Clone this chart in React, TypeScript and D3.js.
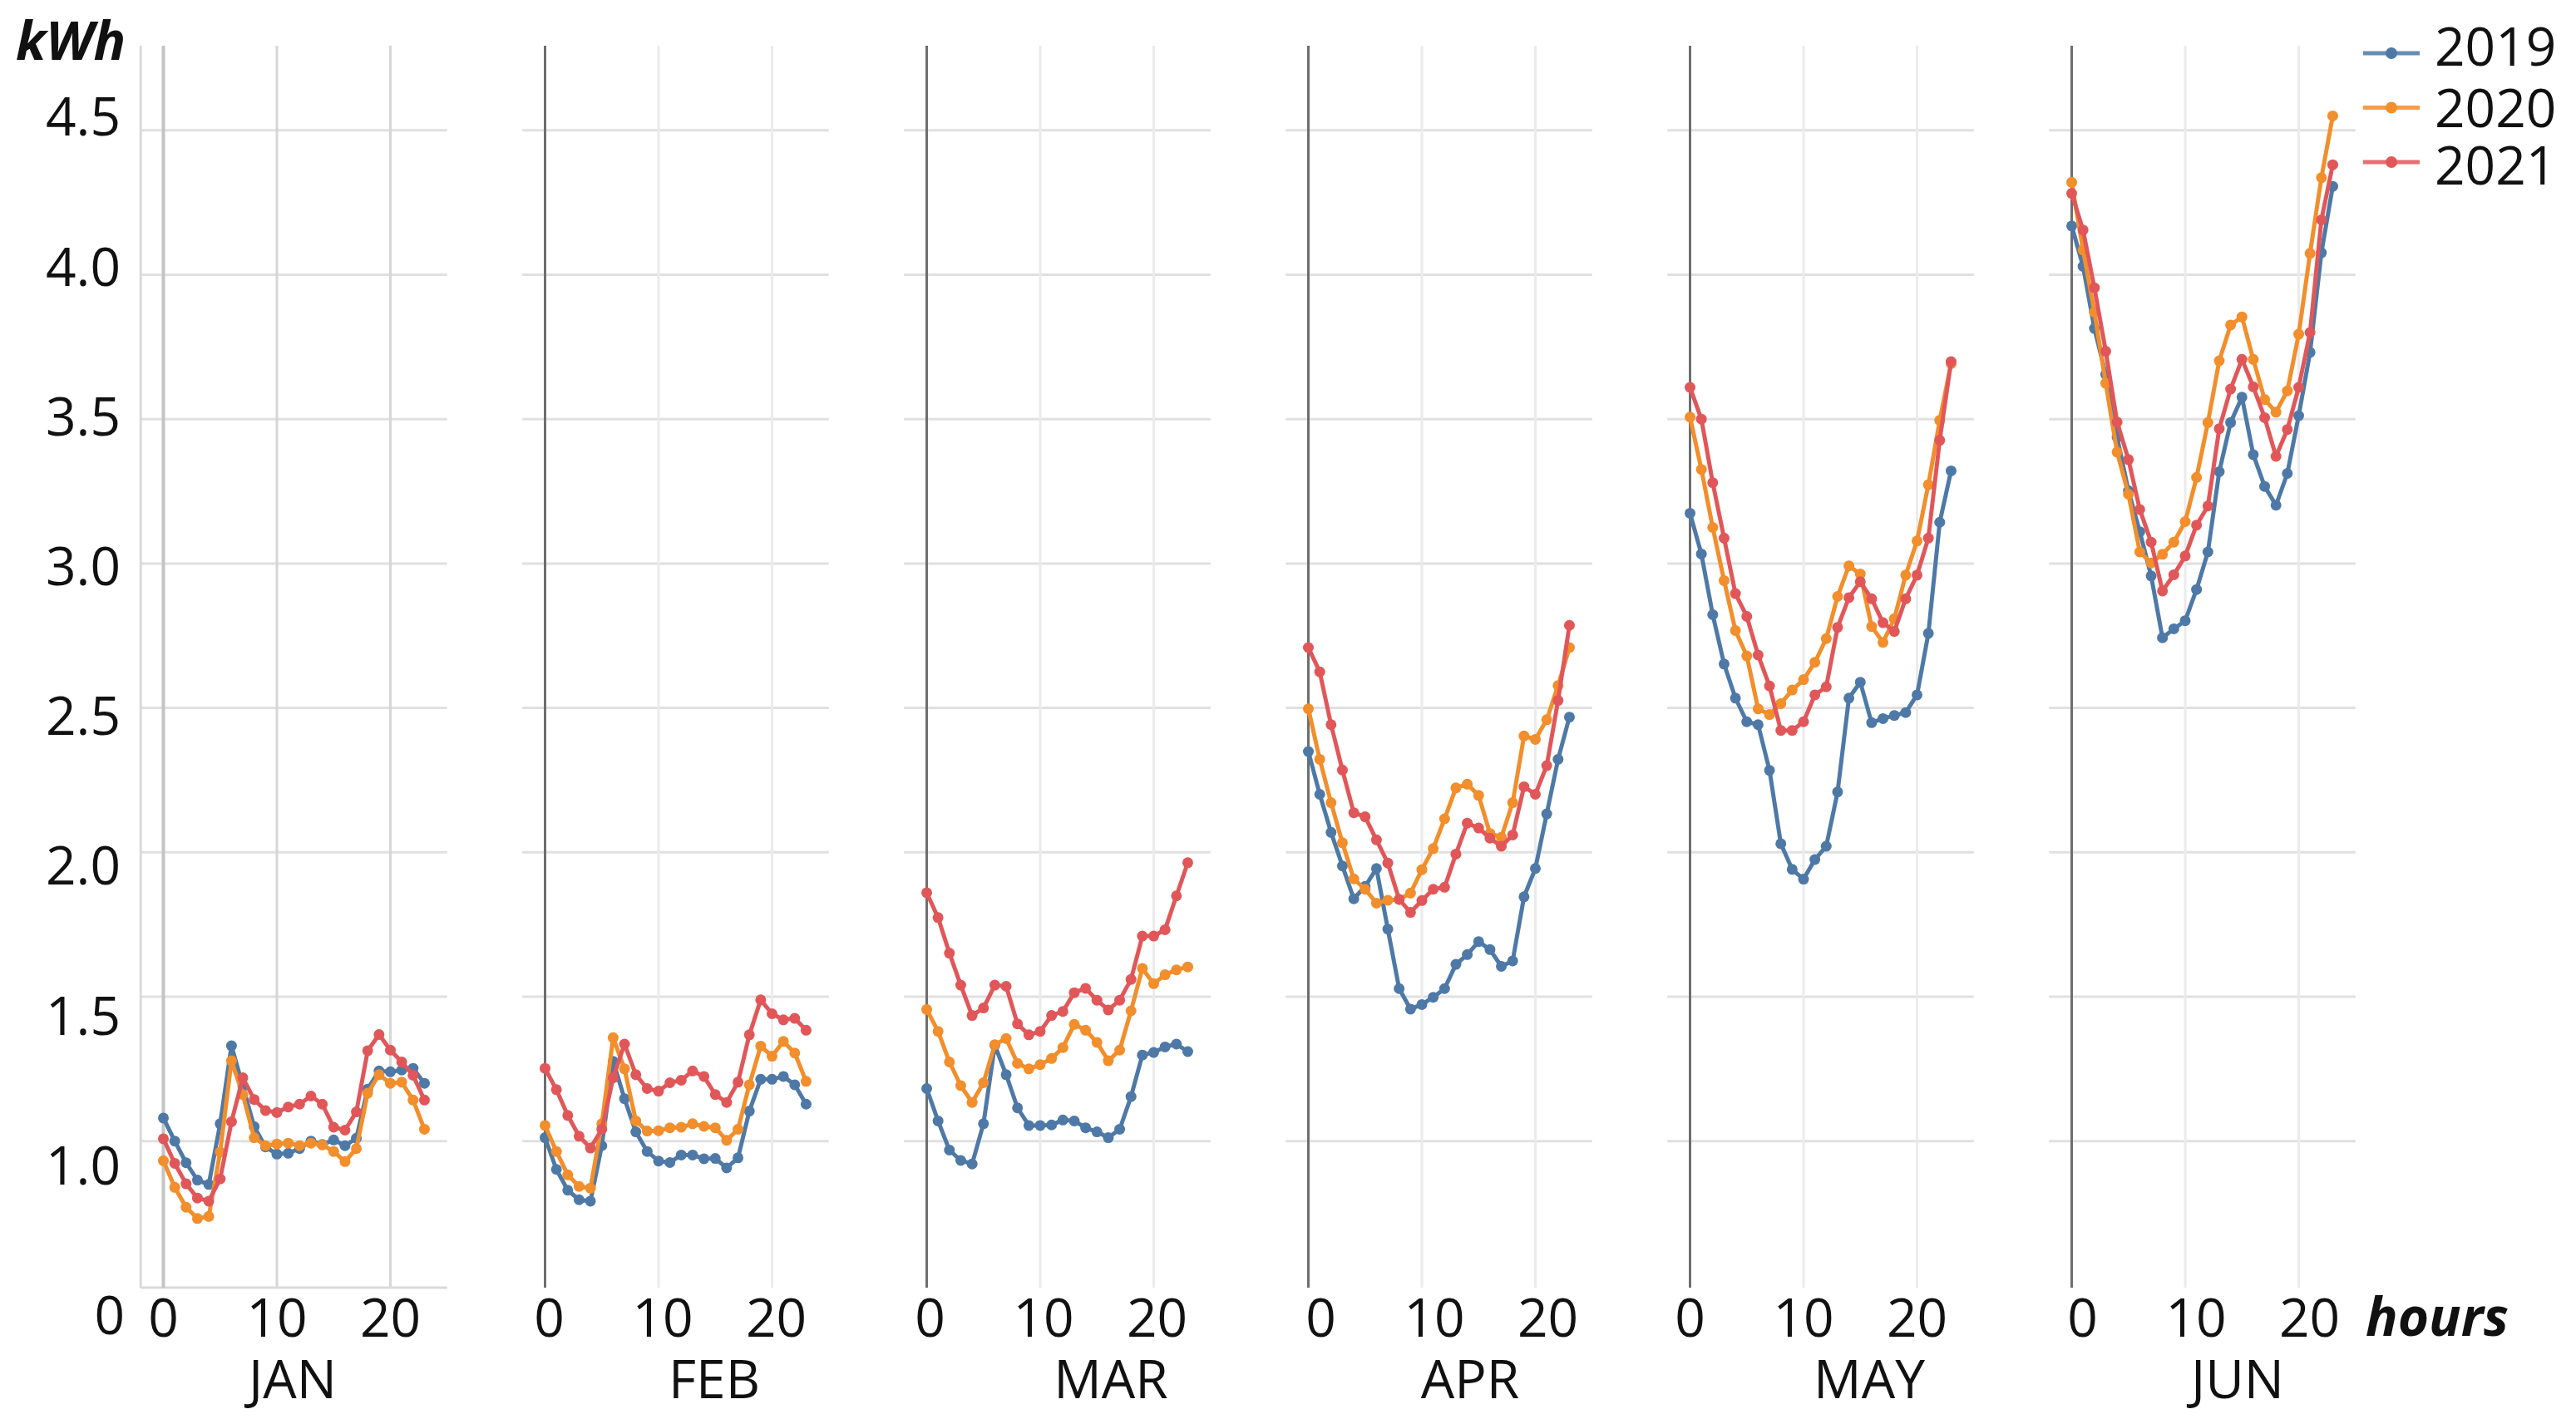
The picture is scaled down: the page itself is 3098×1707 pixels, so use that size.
import React from "react";
import * as d3 from "d3";

// ---------- data ----------
const MONTHS = ["JAN", "FEB", "MAR", "APR", "MAY", "JUN"];
const YEARS = ["2019", "2020", "2021"];
const COLORS = ["#4e79a7", "#f28e2b", "#e15759"];
const HOURS = d3.range(24);
const X_TICKS = [0, 10, 20];
const GRID_VALUES = [1.0, 1.5, 2.0, 2.5, 3.0, 3.5, 4.0, 4.5];
const Y_LABELS = ["4.5", "4.0", "3.5", "3.0", "2.5", "2.0", "1.5", "1.0", "0"];

const JAN_2019 = [1.08, 1.0, 0.925, 0.865, 0.85, 1.06, 1.33, 1.19, 1.05, 0.98, 0.955, 0.958, 0.974, 1.0, 0.988, 1.004, 0.984, 1.01, 1.18, 1.243, 1.24, 1.246, 1.252, 1.2];
const JAN_2020 = [0.932, 0.84, 0.771, 0.732, 0.739, 0.962, 1.278, 1.161, 1.012, 0.984, 0.99, 0.993, 0.984, 0.993, 0.987, 0.964, 0.929, 0.974, 1.166, 1.23, 1.2, 1.204, 1.142, 1.041];
const JAN_2021 = [1.008, 0.923, 0.852, 0.803, 0.792, 0.869, 1.067, 1.219, 1.144, 1.106, 1.099, 1.118, 1.128, 1.156, 1.128, 1.048, 1.038, 1.101, 1.313, 1.369, 1.315, 1.274, 1.228, 1.142];

const FEB_2019 = [1.012, 0.902, 0.83, 0.797, 0.792, 0.984, 1.276, 1.147, 1.032, 0.964, 0.931, 0.926, 0.952, 0.952, 0.939, 0.94, 0.907, 0.942, 1.104, 1.214, 1.214, 1.224, 1.195, 1.128];
const FEB_2020 = [1.054, 0.964, 0.883, 0.843, 0.837, 1.06, 1.358, 1.25, 1.07, 1.035, 1.036, 1.046, 1.048, 1.06, 1.051, 1.046, 1.003, 1.041, 1.195, 1.329, 1.294, 1.345, 1.305, 1.207];
const FEB_2021 = [1.252, 1.178, 1.089, 1.017, 0.976, 1.041, 1.219, 1.336, 1.23, 1.182, 1.173, 1.202, 1.211, 1.243, 1.224, 1.161, 1.134, 1.204, 1.368, 1.489, 1.441, 1.42, 1.425, 1.384];

const MAR_2019 = [1.182, 1.07, 0.969, 0.933, 0.921, 1.06, 1.332, 1.23, 1.115, 1.054, 1.054, 1.056, 1.073, 1.07, 1.046, 1.032, 1.012, 1.041, 1.154, 1.298, 1.307, 1.326, 1.336, 1.31];
const MAR_2020 = [1.456, 1.38, 1.274, 1.192, 1.134, 1.202, 1.334, 1.355, 1.269, 1.25, 1.265, 1.286, 1.324, 1.404, 1.384, 1.342, 1.278, 1.315, 1.451, 1.598, 1.545, 1.576, 1.593, 1.603];
const MAR_2021 = [1.86, 1.774, 1.651, 1.54, 1.435, 1.461, 1.54, 1.536, 1.406, 1.368, 1.38, 1.435, 1.449, 1.514, 1.529, 1.488, 1.454, 1.488, 1.56, 1.71, 1.71, 1.732, 1.849, 1.964];

const APR_2019 = [2.349, 2.201, 2.069, 1.953, 1.839, 1.882, 1.944, 1.734, 1.528, 1.457, 1.473, 1.498, 1.528, 1.612, 1.646, 1.691, 1.663, 1.605, 1.624, 1.846, 1.944, 2.133, 2.322, 2.468];
const APR_2020 = [2.497, 2.322, 2.172, 2.033, 1.908, 1.872, 1.824, 1.834, 1.837, 1.859, 1.94, 2.013, 2.116, 2.223, 2.236, 2.197, 2.065, 2.052, 2.172, 2.403, 2.391, 2.459, 2.577, 2.709];
const APR_2021 = [2.709, 2.625, 2.442, 2.285, 2.137, 2.123, 2.043, 1.963, 1.837, 1.792, 1.833, 1.872, 1.879, 1.994, 2.101, 2.084, 2.049, 2.021, 2.06, 2.227, 2.201, 2.3, 2.526, 2.786];

const MAY_2019 = [3.174, 3.033, 2.823, 2.652, 2.534, 2.452, 2.442, 2.284, 2.03, 1.941, 1.907, 1.975, 2.021, 2.209, 2.534, 2.589, 2.449, 2.463, 2.474, 2.484, 2.545, 2.758, 3.143, 3.321];
const MAY_2020 = [3.507, 3.326, 3.125, 2.941, 2.768, 2.68, 2.497, 2.477, 2.515, 2.562, 2.598, 2.658, 2.74, 2.886, 2.992, 2.964, 2.782, 2.727, 2.809, 2.96, 3.078, 3.273, 3.496, 3.692];
const MAY_2021 = [3.61, 3.5, 3.28, 3.088, 2.896, 2.817, 2.683, 2.576, 2.422, 2.422, 2.452, 2.545, 2.573, 2.779, 2.882, 2.937, 2.878, 2.795, 2.765, 2.878, 2.96, 3.088, 3.427, 3.699];

const JUN_2019 = [4.169, 4.029, 3.814, 3.655, 3.437, 3.252, 3.11, 2.957, 2.743, 2.774, 2.802, 2.91, 3.04, 3.318, 3.488, 3.576, 3.377, 3.267, 3.202, 3.312, 3.512, 3.731, 4.076, 4.306];
const JUN_2020 = [4.32, 4.086, 3.871, 3.624, 3.386, 3.24, 3.04, 3.002, 3.032, 3.074, 3.145, 3.298, 3.488, 3.702, 3.826, 3.854, 3.707, 3.568, 3.524, 3.598, 3.794, 4.074, 4.336, 4.55];
const JUN_2021 = [4.282, 4.155, 3.955, 3.735, 3.49, 3.36, 3.187, 3.074, 2.905, 2.961, 3.026, 3.133, 3.199, 3.467, 3.604, 3.707, 3.612, 3.505, 3.371, 3.464, 3.61, 3.8, 4.19, 4.381];

const SERIES_BY_MONTH = [
  [JAN_2019, JAN_2020, JAN_2021],
  [FEB_2019, FEB_2020, FEB_2021],
  [MAR_2019, MAR_2020, MAR_2021],
  [APR_2019, APR_2020, APR_2021],
  [MAY_2019, MAY_2020, MAY_2021],
  [JUN_2019, JUN_2020, JUN_2021],
];

// ---------- layout ----------
const W = 3098;
const H = 1707;
const PANEL_X0 = 196.5;
const PANEL_STEP = 459;
const HOUR_W = 13.65;
const PLOT_TOP = 55;
const PLOT_BOTTOM = 1549;
const TICK_SHIFT = [0, 5, 4, 15, 0, 13];
const MONTH_CX = [352, 859, 1336, 1768, 2248, 2691];
const FONT = "'Open Sans', 'Noto Sans', sans-serif";
const FS = 64;
const LINE_W = 5;
const DOT_R = 6.5;

const y = d3.scaleLinear().domain([1, 4.5]).range([1372.7, 156.8]);

export default function App() {
  const panels = MONTHS.map((m, i) => {
    const x0 = PANEL_X0 + i * PANEL_STEP;
    const x = d3.scaleLinear().domain([-2, 25]).range([x0 - 2 * HOUR_W, x0 + 25 * HOUR_W]);
    const line = d3
      .line<number>()
      .x((_, k) => x(HOURS[k]))
      .y((d) => y(d));
    const isFirst = i === 0;
    return (
      <g key={m}>
        {GRID_VALUES.map((v) => (
          <line key={"h" + v} x1={x(-2)} x2={x(25)} y1={y(v)} y2={y(v)} stroke="#e0e0e0" strokeWidth={3} />
        ))}
        {X_TICKS.filter((t) => t !== 0).map((t) => (
          <line key={"v" + t} x1={x(t)} x2={x(t)} y1={PLOT_TOP} y2={PLOT_BOTTOM} stroke={isFirst ? "#d6d6d6" : "#ebebeb"} strokeWidth={3} />
        ))}
        {isFirst ? (
          <g>
            <line x1={x(-2)} x2={x(-2)} y1={PLOT_TOP} y2={PLOT_BOTTOM} stroke="#d9d9d9" strokeWidth={3} />
            <line x1={x(-2)} x2={x(25)} y1={PLOT_BOTTOM} y2={PLOT_BOTTOM} stroke="#d9d9d9" strokeWidth={3} />
            <line x1={x(0)} x2={x(0)} y1={PLOT_TOP} y2={PLOT_BOTTOM} stroke="#c4c4c4" strokeWidth={4} />
          </g>
        ) : (
          <line x1={x(0)} x2={x(0)} y1={PLOT_TOP} y2={PLOT_BOTTOM} stroke="#6e6e6e" strokeWidth={3} />
        )}
        {SERIES_BY_MONTH[i].map((vals, s) => (
          <g key={YEARS[s]}>
            <path d={line(vals) || ""} fill="none" stroke={COLORS[s]} strokeWidth={LINE_W} strokeLinejoin="round" />
            {vals.map((v, k) => (
              <circle key={k} cx={x(HOURS[k])} cy={y(v)} r={DOT_R} fill={COLORS[s]} />
            ))}
          </g>
        ))}
        {X_TICKS.map((t) => (
          <text key={"t" + t} x={x(t) + TICK_SHIFT[i]} y={1608} textAnchor="middle" fontFamily={FONT} fontSize={FS} fill="#111">
            {t}
          </text>
        ))}
        <text x={MONTH_CX[i]} y={1682} textAnchor="middle" fontFamily={FONT} fontSize={FS} fill="#111">
          {m}
        </text>
      </g>
    );
  });

  return (
    <svg width={W} height={H} viewBox={`0 0 ${W} ${H}`} style={{ position: "absolute", left: 0, top: 0, background: "#fff" }}>
      <rect x={0} y={0} width={W} height={H} fill="#fff" />
      {panels}
      {Y_LABELS.map((lab, k) => (
        <text
          key={lab}
          x={lab === "0" ? 150 : 145}
          y={140.5 + k * 180.2 + 22.8}
          textAnchor="end"
          fontFamily={FONT}
          fontSize={FS}
          fill="#111"
        >
          {lab}
        </text>
      ))}
      <text x={19} y={72} fontFamily={FONT} fontSize={FS} fontWeight="bold" fontStyle="italic" fill="#111">
        kWh
      </text>
      <text x={2845} y={1607} fontFamily={FONT} fontSize={FS} fontWeight="bold" fontStyle="italic" fill="#111">
        hours
      </text>
      {YEARS.map((yr, s) => {
        const ly = [64, 129.5, 195][s];
        const ty = [56, 130.5, 199][s];
        return (
          <g key={yr}>
            <line x1={2842} x2={2910} y1={ly} y2={ly} stroke={COLORS[s]} strokeWidth={5} opacity={0.85} />
            <circle cx={2876} cy={ly} r={7} fill={COLORS[s]} />
            <text x={2928} y={ty + 22.8} fontFamily={FONT} fontSize={FS} fill="#111">
              {yr}
            </text>
          </g>
        );
      })}
    </svg>
  );
}
